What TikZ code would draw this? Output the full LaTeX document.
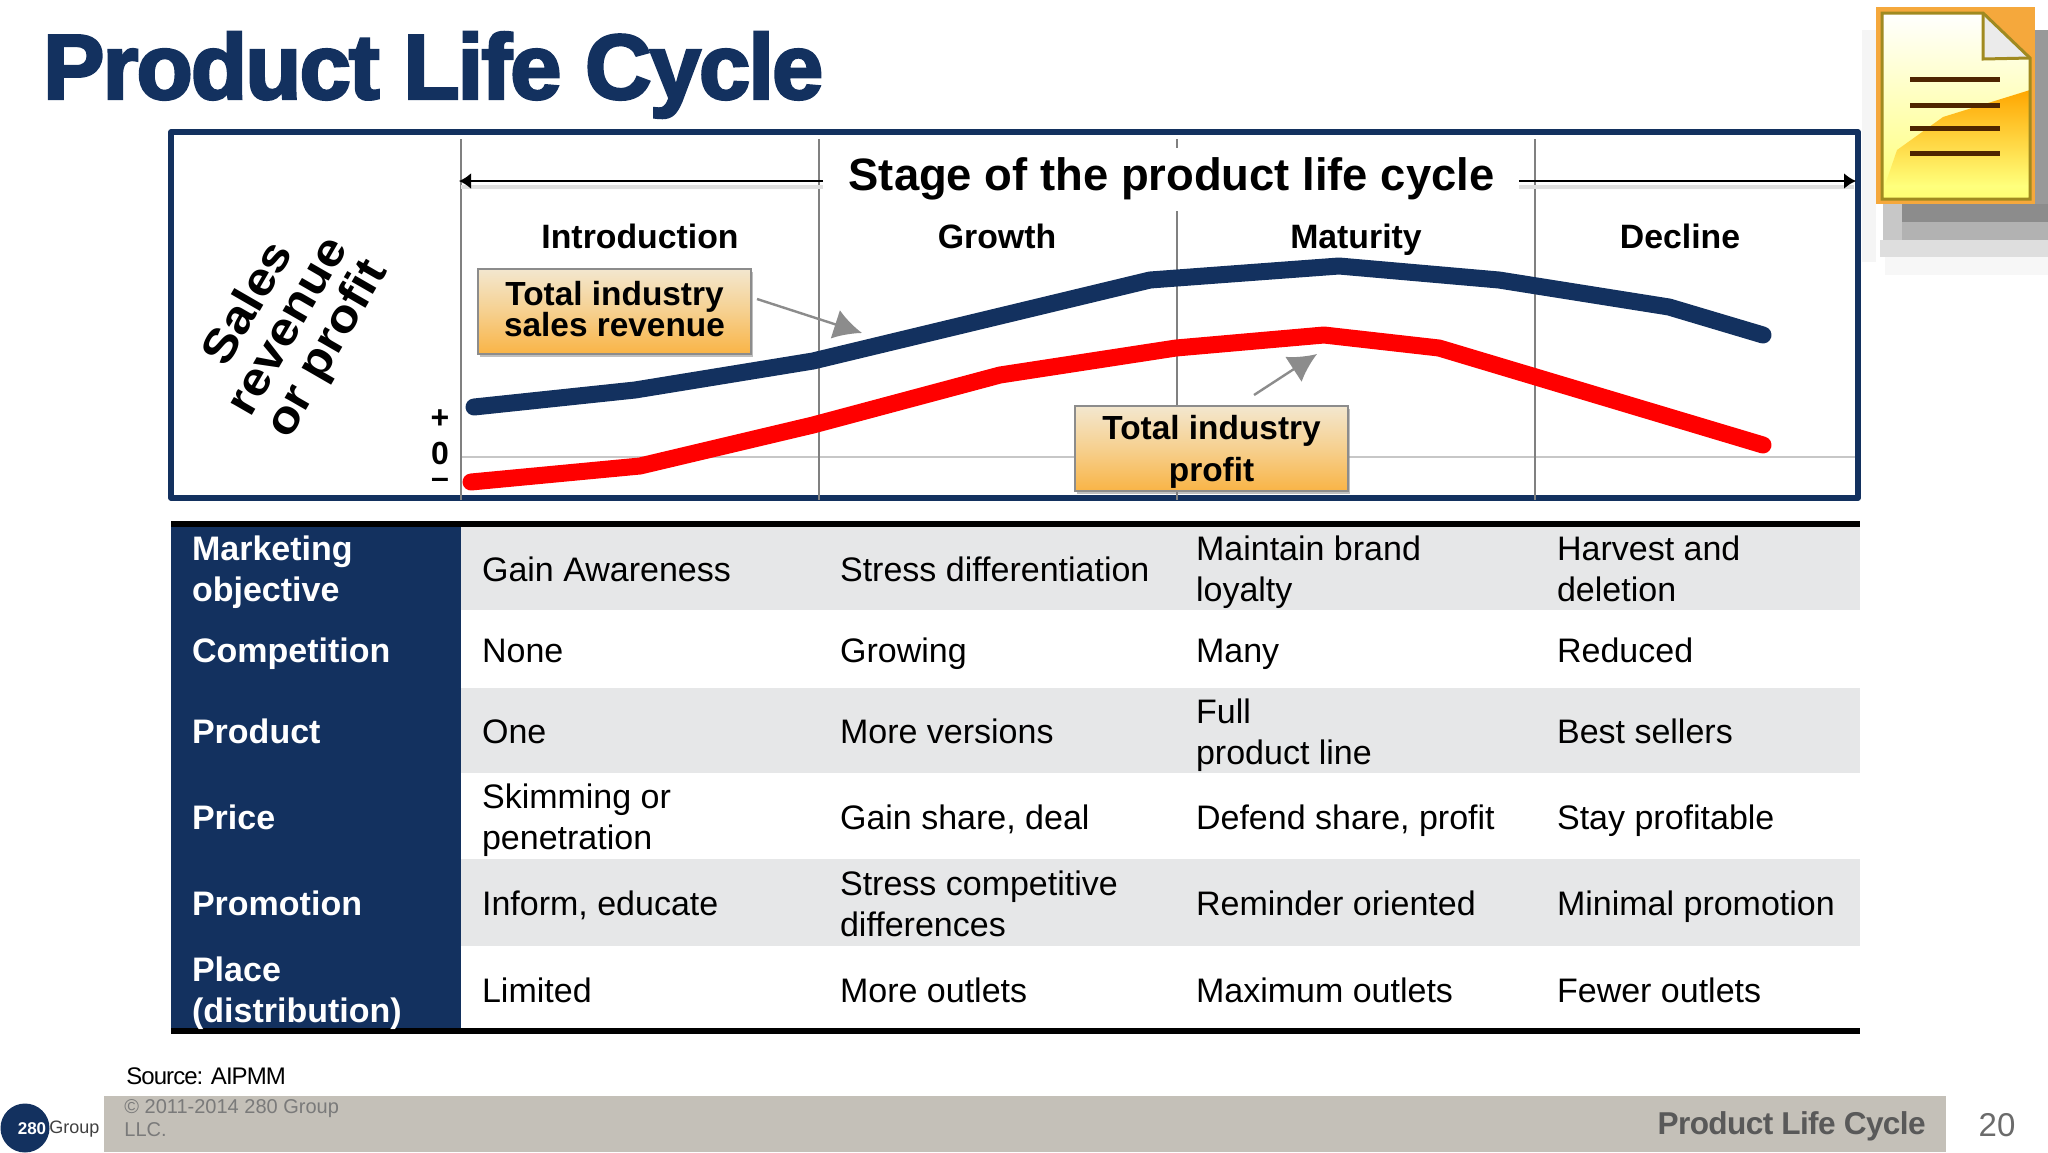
\documentclass[tikz,border=0pt]{standalone}
\usepackage{fontspec}
\setmainfont{Liberation Sans}
\newfontface\titlefont[FakeBold=3,LetterSpace=-2]{Liberation Sans Bold}
\usepackage{tikz}
\usetikzlibrary{arrows.meta,shadows}
\definecolor{navy280}{HTML}{13315F}
\definecolor{band280}{HTML}{E6E7E8}
\definecolor{foot280}{HTML}{C4C0B8}
\definecolor{boxtop}{HTML}{F3E7CF}
\definecolor{boxmid}{HTML}{F6D08F}
\definecolor{boxlow}{HTML}{F9B446}
\definecolor{iconline}{HTML}{4F2500}
\definecolor{iconedge}{HTML}{A08A20}
\definecolor{iconrim}{HTML}{F5A83C}
\tikzset{
    stagehead/.style={text height=12pt,text depth=0pt,font=\fontsize{16.9}{20}\selectfont\bfseries},
    rowhead/.style={anchor=west,align=left,xshift=2pt,yshift=-2pt,text=white,execute at begin node=\strut,execute at end node=\strut,font=\fontsize{17}{20.4}\selectfont\bfseries},
    cell/.style={anchor=west,align=left,xshift=2pt,yshift=-2pt,execute at begin node=\strut,execute at end node=\strut,font=\fontsize{17}{20.4}\selectfont},
    twoline/.style={yshift=-1pt},
    callout/.style={draw=black!45,line width=1pt,top color=boxtop,bottom color=boxlow,middle color=boxmid,
        minimum width=136.5pt,minimum height=42.5pt,align=center,drop shadow={shadow xshift=1pt,shadow yshift=-1.5pt,opacity=.5},font=\fontsize{16.7}{15.6}\selectfont\bfseries},
    stagearrow/.style={line width=1.4pt,-{Latex[length=6pt,width=8pt]}},
    grayarrow/.style={draw=black!45,line width=1.2pt,-{Latex[length=14pt,width=15pt]}},
    stageline/.style={draw=black!50,line width=.7pt},
    curve/.style={line width=8.5pt,line cap=round,line join=round},
    signtext/.style={font=\fontsize{16}{18}\selectfont\bfseries},
    iconbar/.style={iconline,line width=2.5pt},
}
\begin{document}
\begin{tikzpicture}[x=.5pt,y=-.5pt]
    \useasboundingbox (0,0) rectangle (2048,1152);
    \node[anchor=west,text=navy280,font=\fontsize{46}{50}\titlefont] (title) at (36,75) {Product Life Cycle};
    % icon
    \fill[black!4] (1862,30) rectangle (1876,262);
    \fill[black!3] (1885,257) rectangle (2048,275);
    \fill[black!13] (1880,240) rectangle (2048,257);
    \fill[black!30] (1883,222) rectangle (2048,240);
    \fill[black!45] (1883,204) rectangle (2048,222);
    \fill[black!22] (1883,204) rectangle (1902,240);
    \fill[black!40] (2035,30) rectangle (2048,204);
    \fill[iconrim] (1876,7) rectangle (2035,204);
    \shade[top color=white,bottom color=yellow!55] (1882,13) -- (1983,13) -- (2030,58) -- (2030,199) -- (1882,199) -- cycle;
    \shade[top color=orange!70!yellow,bottom color=yellow!52] (2030,90) -- (1943,117) -- (1897,150) -- (1885,185) -- (2030,185) -- cycle;
    \fill[black!8] (1983,13) -- (2030,58) -- (1983,59) -- cycle;
    \draw[iconedge,line width=1.5pt] (1882,13) -- (1983,13) -- (2030,58) -- (2030,199) -- (1882,199) -- cycle;
    \draw[iconedge,line width=1.5pt] (1983,13) -- (1983,59) -- (2030,58);
    \draw[iconbar] (1910,79) -- (2000,79);
    \draw[iconbar] (1910,105) -- (2000,105);
    \draw[iconbar] (1910,128) -- (2000,128);
    \draw[iconbar] (1910,153) -- (2000,153);
    % chart frame
    \draw[navy280,line width=2.8pt,fill=white,line join=round] (171,132) rectangle (1858,498);
    \draw[black!22,line width=1.2pt] (461,457) -- (1855,457);
    \draw[stageline] (461,139) -- (461,500);
    \draw[stageline] (819,139) -- (819,500);
    \draw[stageline] (1177,139) -- (1177,500);
    \draw[stageline] (1535,139) -- (1535,500);
    \node[fill=white,inner sep=0pt,minimum width=645pt/2,minimum height=31.5pt,font=\fontsize{22.7}{26}\selectfont\bfseries] (stage) at (1171.5,179) {Stage of the product life cycle};
    \coordinate (SL) at (823,181);
    \coordinate (SLtip) at (459,181);
    \coordinate (SR) at (1519,181);
    \coordinate (SRtip) at (1856,181);
    \draw[black!12,line width=2pt] (SL) ++(0,6) -- (461,187);
    \draw[black!12,line width=2pt] (SR) ++(0,6) -- (1854,187);
    \draw[stagearrow] (SL) -- (SLtip);
    \draw[stagearrow] (SR) -- (SRtip);
    \node[stagehead] (intro) at (640,236) {Introduction};
    \node[stagehead] (growth) at (997,236) {Growth};
    \node[stagehead] (maturity) at (1356,236) {Maturity};
    \node[stagehead] (decline) at (1680,236) {Decline};
    \node[rotate=60,yscale=.9,align=center,font=\fontsize{25.7}{25}\selectfont\bfseries] (axis) at (289,327) {Sales\\revenue\\or profit};
    \node[signtext] (plus) at (440,419) {+};
    \node[signtext] (zero) at (440,453) {0};
    \node[signtext] (minus) at (440,483) {--};
    % curves
    \draw[curve,navy280] (474,407) -- (635,390) -- (813,361) -- (1150,280) -- (1339,266) -- (1499,280) -- (1669,307) -- (1763,335);
    \draw[curve,red] (471,482) -- (640,466) -- (813,425) -- (1000,375) -- (1176,348) -- (1324,335) -- (1439,348) -- (1763,445);
    \node[callout,text depth=3pt] (revbox) at (614.5,311.5) {Total industry\\sales revenue};
    \node[callout,text depth=0pt,font=\fontsize{16.7}{21}\selectfont\bfseries] (profbox) at (1211.5,448.5) {Total industry\\profit};
    \coordinate (revtail) at (757,299);
    \coordinate (revtip) at (862,333);
    \coordinate (proftail) at (1254,395);
    \coordinate (proftip) at (1317,354);
    \draw[grayarrow] (revtail) -- (revtip);
    \draw[grayarrow] (proftail) -- (proftip);
    % table
    \fill[band280] (461,524) rectangle (1860,610);
    \fill[band280] (461,688) rectangle (1860,773);
    \fill[band280] (461,859) rectangle (1860,946);
    \fill[navy280] (171,524) rectangle (461,1031);
    \draw[black,line width=2.8pt] (171,524) -- (1860,524);
    \draw[black,line width=2.8pt] (171,1031) -- (1860,1031);
    \node[rowhead,twoline] (r1) at (181,569) {Marketing\\objective};
    \node[rowhead] (r2) at (181,650) {Competition};
    \node[rowhead] (r3) at (181,731) {Product};
    \node[rowhead] (r4) at (181,817) {Price};
    \node[rowhead] (r5) at (181,903) {Promotion};
    \node[rowhead,twoline] (r6) at (181,990) {Place\\(distribution)};
    \node[cell] (a1) at (471,569) {Gain Awareness};
    \node[cell] (a2) at (471,650) {None};
    \node[cell] (a3) at (471,731) {One};
    \node[cell,twoline] (a4) at (471,817) {Skimming or\\penetration};
    \node[cell] (a5) at (471,903) {Inform, educate};
    \node[cell] (a6) at (471,990) {Limited};
    \node[cell] (b1) at (829,569) {Stress differentiation};
    \node[cell] (b2) at (829,650) {Growing};
    \node[cell] (b3) at (829,731) {More versions};
    \node[cell] (b4) at (829,817) {Gain share, deal};
    \node[cell,twoline] (b5) at (829,904) {Stress competitive\\differences};
    \node[cell] (b6) at (829,990) {More outlets};
    \node[cell,twoline] (c1) at (1185,569) {Maintain brand\\loyalty};
    \node[cell] (c2) at (1185,650) {Many};
    \node[cell,twoline] (c3) at (1185,732) {Full\\product line};
    \node[cell] (c4) at (1185,817) {Defend share, profit};
    \node[cell] (c5) at (1185,903) {Reminder oriented};
    \node[cell] (c6) at (1185,990) {Maximum outlets};
    \node[cell,twoline] (d1) at (1546,569) {Harvest and\\deletion};
    \node[cell] (d2) at (1546,650) {Reduced};
    \node[cell] (d3) at (1546,731) {Best sellers};
    \node[cell] (d4) at (1546,817) {Stay profitable};
    \node[cell] (d5) at (1546,903) {Minimal promotion};
    \node[cell] (d6) at (1546,990) {Fewer outlets};
    % footer
    \node[anchor=west,inner sep=0pt,font=\fontsize{12}{14}\selectfont\addfontfeature{LetterSpace=-4}] (source) at (126,1076) {Source: AIPMM};
    \fill[foot280] (104,1096) rectangle (1946,1152);
    \node[anchor=west,inner sep=0pt,align=left,text=black!52,font=\fontsize{10}{11.5}\selectfont] (copy) at (124,1118) {© 2011-2014 280 Group\\LLC.};
    \node[anchor=east,inner sep=0pt,text=black!65,font=\fontsize{15.8}{18}\selectfont\bfseries\addfontfeature{LetterSpace=-2}] (foottitle) at (1926,1126) {Product Life Cycle};
    \node[inner sep=0pt,text=black!58,font=\fontsize{16.5}{18}\selectfont] (page) at (1997,1125) {20};
    \node[circle,fill=navy280,minimum size=24.5pt,inner sep=0pt] (logo) at (25,1128) {};
    \node[inner sep=0pt,text=white,font=\fontsize{8.5}{10}\selectfont\bfseries] (logotext) at (32,1129) {280};
    \node[anchor=west,inner sep=0pt,text=black!75,font=\fontsize{9}{11}\selectfont] (logoname) at (49,1129) {Group};
\end{tikzpicture}
\end{document}
